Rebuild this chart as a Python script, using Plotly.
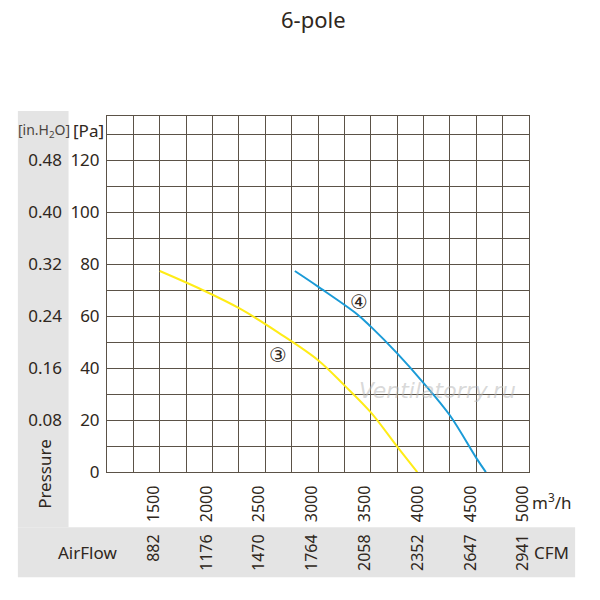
import plotly.graph_objects as go

# curve 3 (yellow)
flow_3 = [1500, 1900, 2260, 2620, 3000, 3250, 3500, 3750, 3940]
pa_3 = [77.4, 70.2, 62.9, 53.8, 43.1, 33.4, 23.0, 9.8, 0]

# curve 4 (blue)
flow_4 = [2780, 3000, 3370, 3500, 3750, 4000, 4250, 4500, 4590]
pa_4 = [77.4, 71.4, 60.8, 56.0, 45.7, 34.3, 21.8, 5.4, 0]

flow_ticks = [1500, 2000, 2500, 3000, 3500, 4000, 4500, 5000]
cfm_labels = ["882", "1176", "1470", "1764", "2058", "2352", "2647", "2941"]
pa_ticks = [0, 20, 40, 60, 80, 100, 120]
inh2o_ticks = [20, 40, 60, 80, 100, 120]
inh2o_labels = ["0.08", "0.16", "0.24", "0.32", "0.40", "0.48"]

FONT = "Noto Sans"
TXT = "#2f2720"
GRID = "#5b5247"
W = H = 600


def px(x):
    return x / W


def py(y):
    return 1 - y / H


fig = go.Figure()
fig.add_trace(go.Scatter(x=flow_3, y=pa_3, mode="lines", line=dict(color="#ffec17", width=2, shape="spline"),
                         showlegend=False, hoverinfo="skip"))
fig.add_trace(go.Scatter(x=flow_4, y=pa_4, mode="lines", line=dict(color="#1b9bd7", width=2, shape="spline"),
                         showlegend=False, hoverinfo="skip"))
# empty trace so the secondary axes get drawn
fig.add_trace(go.Scatter(x=[None], y=[None], xaxis="x2", yaxis="y2", showlegend=False, hoverinfo="skip"))

x_dom = [px(107.7), px(532.7)]
y_dom = [py(481), py(118.3)]
x_rng = [1000, 5000]
y_rng = [0, 137]

fig.update_layout(
    width=W, height=H,
    margin=dict(l=0, r=0, t=0, b=0),
    paper_bgcolor="white", plot_bgcolor="white",
    font=dict(family=FONT, color=TXT, size=16),
    xaxis=dict(domain=x_dom, range=x_rng, tickvals=flow_ticks, ticktext=[str(v) for v in flow_ticks],
               tickangle=-90, ticks="", ticklabelstandoff=6, ticklabelshift=-6,
               tickfont=dict(size=16), showgrid=True, gridcolor=GRID, gridwidth=1,
               minor=dict(dtick=250, tick0=1000, showgrid=True, gridcolor=GRID, gridwidth=1),
               showline=True, linecolor=GRID, linewidth=1, mirror=True, zeroline=False, fixedrange=True),
    yaxis=dict(domain=y_dom, range=y_rng, tickvals=pa_ticks, ticks="", ticklabelstandoff=3,
               tickfont=dict(size=17), showgrid=True, gridcolor=GRID, gridwidth=1,
               minor=dict(dtick=10, tick0=0, showgrid=True, gridcolor=GRID, gridwidth=1),
               showline=True, linecolor=GRID, linewidth=1, mirror=True, zeroline=False, fixedrange=True),
    xaxis2=dict(overlaying="x", anchor="y", side="bottom", range=x_rng, tickvals=flow_ticks,
                ticktext=cfm_labels, tickangle=-90, ticks="", ticklabelstandoff=58, ticklabelshift=-6,
                tickfont=dict(size=16), showgrid=False, showline=False, zeroline=False, fixedrange=True),
    yaxis2=dict(overlaying="y", anchor="x", side="left", range=y_rng, tickvals=inh2o_ticks,
                ticktext=inh2o_labels, ticks="", ticklabelstandoff=44, tickfont=dict(size=17),
                showgrid=False, showline=False, zeroline=False, fixedrange=True),
    shapes=[
        dict(type="rect", xref="paper", yref="paper", x0=px(18), x1=px(69), y0=py(537), y1=py(113),
             fillcolor="#e4e4e4", line_width=0, layer="below"),
        dict(type="rect", xref="paper", yref="paper", x0=px(18), x1=px(579), y0=py(588), y1=py(537),
             fillcolor="#e4e4e4", line_width=0, layer="below"),
    ],
)

ann = [
    dict(text="6-pole", x=px(316), y=py(19), size=22),
    dict(text="[in.H<sub>2</sub>O]", x=px(44), y=py(133), size=14, color="#4a4440"),
    dict(text="[Pa]", x=px(89), y=py(133), size=17),
    dict(text="Pressure", x=px(44), y=py(483), size=17, angle=-90),
    dict(text="AirFlow", x=px(88), y=py(563), size=17),
    dict(text="CFM", x=px(555), y=py(563), size=17),
    dict(text="m<sup>3</sup>/h", x=px(556), y=py(511), size=17),
]
for a in ann:
    fig.add_annotation(text=a["text"], x=a["x"], y=a["y"], xref="paper", yref="paper",
                       xanchor="center", yanchor="middle", showarrow=False, textangle=a.get("angle", 0),
                       font=dict(family=FONT, size=a["size"], color=a.get("color", TXT)))

# curve labels
fig.add_annotation(text="③", x=2620, y=45, showarrow=False, font=dict(family="DejaVu Sans", size=20, color=TXT))
fig.add_annotation(text="④", x=3385, y=65.3, showarrow=False, font=dict(family="DejaVu Sans", size=20, color=TXT))

# watermark
fig.add_annotation(text="Ventilatorry.ru", x=px(440), y=py(398), xref="paper", yref="paper", showarrow=False,
                   xanchor="center", yanchor="middle",
                   font=dict(family="DejaVu Sans", size=22, color="rgba(185,185,185,0.55)", style="italic"))

fig.write_html("out.html", config={"displayModeBar": False},
               post_script="document.body.style.margin='0';document.body.style.overflow='hidden';")
